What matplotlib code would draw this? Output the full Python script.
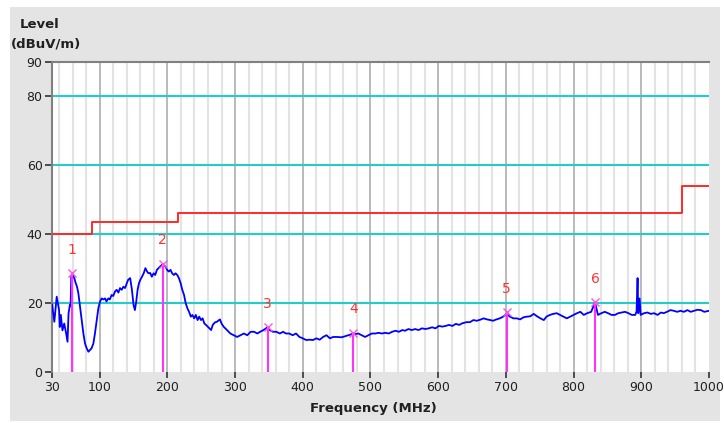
import matplotlib
matplotlib.use("Agg")
import matplotlib.pyplot as plt
from matplotlib.patches import Rectangle

# Start Data Section *********************************************
freq_mhz = [
    30, 31, 33, 36.5, 40, 41, 42.6, 45, 47.6, 50, 52.5, 54, 56, 57, 58, 59.5,
    62.5, 64.5, 66.5, 68.5, 71, 73.4, 75.9, 78.3, 80.8, 83.3, 85.7, 88, 90.7,
    93, 95.6, 98, 100.5, 103, 105.5, 108, 110, 112.7, 115, 117.6, 120, 122.6,
    125, 127.6, 130, 132.5, 135, 137.5, 140, 142, 145, 147.6, 150, 152, 154,
    156, 158, 160, 162.5, 165, 167.5, 170, 172, 174.6, 177, 179.6, 182, 184.5,
    187, 189.5, 192, 193, 194.6, 197, 199.6, 202, 204.6, 207, 209.6, 212,
    214.6, 217, 219.6, 222, 224.6, 227, 229.6, 232, 234.6, 237, 239.6, 242,
    244.6, 247, 249.6, 252, 254.6, 257, 259.6, 262, 264.6, 267, 270, 273,
    277.6, 280, 283, 288, 293, 298, 303, 308, 313, 318, 323, 328, 333, 337,
    342, 348, 351, 356, 361, 366, 371, 375, 380, 385, 390, 395, 400, 405, 410,
    415, 420, 425, 430, 435, 440, 445, 450, 457.5, 462.4, 467.3, 472.2, 474.7,
    477.2, 482, 487, 492, 497, 502, 507, 512, 517, 522, 527, 532, 537, 542,
    547, 551, 556, 561, 566, 571, 576, 581, 586, 591, 596, 601, 606, 611, 616,
    621, 626, 631, 636, 642, 647, 652, 657, 662, 667, 672, 677, 681, 686, 691,
    696, 701, 706, 711, 716, 721, 726, 731, 736, 741, 746, 751, 756, 760, 765,
    770, 775, 780, 785, 790, 795, 800, 805, 810, 815, 820, 826, 831.6, 836,
    841, 846, 851, 856, 861, 866, 871, 876, 881, 886, 891, 893, 894.5, 895.5,
    897.5, 899, 904, 909, 914, 919, 924, 929, 933, 938, 943, 948, 953, 958,
    963, 968, 973, 978, 983, 988, 993, 1000,
]
level_dbuv = [
    19.5, 17.5, 14.5, 21.8, 17.9, 13.0, 16.5, 12.0, 14.0, 11.6, 8.7, 17.0,
    19.4, 19.0, 27.6, 28.6, 27.2, 25.8, 24.7, 22.8, 18.9, 15.0, 11.1, 8.2,
    6.8, 5.8, 6.3, 6.8, 8.2, 11.1, 15.0, 18.4, 20.4, 21.3, 21.0, 21.3, 20.4,
    21.3, 21.0, 22.3, 22.0, 23.3, 23.8, 23.0, 24.3, 23.8, 24.7, 24.3, 25.7,
    26.7, 27.2, 23.8, 19.4, 17.9, 20.4, 23.8, 25.7, 26.7, 27.6, 28.6, 30.1,
    29.1, 28.6, 28.7, 27.6, 28.6, 28.1, 29.6, 30.1, 30.6, 31.0, 31.3, 31.0,
    30.6, 29.6, 29.1, 29.6, 28.6, 28.1, 28.6, 28.1, 27.2, 25.7, 23.8, 22.3,
    19.9, 18.4, 17.4, 16.0, 16.5, 15.5, 16.5, 15.0, 16.0, 15.0, 15.5, 14.0,
    13.6, 13.1, 12.6, 12.1, 13.6, 14.3, 14.5, 15.2, 14.0, 13.1, 12.1, 11.1,
    10.6, 10.1, 10.6, 11.1, 10.6, 11.6, 11.6, 11.1, 11.6, 12.1, 12.9, 12.1,
    11.6, 11.6, 11.1, 11.6, 11.1, 11.1, 10.6, 11.1, 10.1, 9.7, 9.2, 9.3, 9.2,
    9.7, 9.3, 10.1, 10.6, 9.7, 10.1, 10.1, 10.0, 10.3, 10.6, 10.9, 11.3,
    10.9, 11.1, 10.6, 10.1, 10.6, 11.1, 11.1, 11.3, 11.1, 11.3, 11.1, 11.6,
    11.9, 11.6, 12.1, 11.9, 12.4, 12.1, 12.4, 12.1, 12.6, 12.4, 12.6, 12.9,
    12.6, 13.3, 13.1, 13.3, 13.6, 13.3, 13.9, 13.6, 14.1, 14.4, 14.4, 15.0,
    14.8, 15.1, 15.5, 15.2, 15.0, 14.8, 15.2, 15.5, 16.0, 16.8, 16.0, 15.5,
    15.5, 15.2, 15.8, 16.0, 16.1, 16.8, 16.1, 15.5, 15.0, 16.0, 16.5, 16.8,
    17.0, 16.5, 16.0, 15.5, 16.0, 16.5, 17.0, 17.4, 16.5, 17.0, 17.4, 20.2,
    16.5, 17.0, 17.4, 17.0, 16.5, 16.5, 17.0, 17.2, 17.4, 17.0, 16.5, 16.5,
    17.5, 27.2, 17.0, 21.3, 16.5, 17.0, 17.2, 16.8, 17.0, 16.5, 17.2, 17.0,
    17.4, 17.9, 17.7, 17.4, 17.7, 17.4, 17.9, 17.4, 17.7, 18.0, 17.9, 17.4,
    17.7,
]

# limit line (step edges and levels)
limit_freq = [30, 88, 216, 960, 1000]
limit_level = [40, 43.5, 46, 54, 54]

# peak markers
marker_ids = ["1", "2", "3", "4", "5", "6"]
marker_freq = [59.5, 193, 348, 474.7, 701, 831.6]
marker_level = [28.6, 31.3, 12.9, 11.3, 17.3, 20.2]

x_ticks = [30, 100, 200, 300, 400, 500, 600, 700, 800, 900, 1000]
x_minor = [f for f in range(40, 1000, 20) if f % 100 != 0]
y_ticks = [0, 20, 40, 60, 80, 90]
# End Data Section ***********************************************


def draw_chart():
    fig = plt.figure(figsize=(7.24, 4.23), dpi=100)
    fig.patch.set_facecolor("white")
    fig.add_artist(Rectangle((10 / 724, 1 - 421 / 423), 710 / 724, 414 / 423,
                             transform=fig.transFigure, facecolor="#e4e4e4",
                             edgecolor="none", zorder=-10))

    ax = fig.add_axes([52.3 / 724, 1 - 371.7 / 423, 656.7 / 724, 309.7 / 423])
    ax.set_facecolor("white")
    ax.set_xlim(30, 1000)
    ax.set_ylim(0, 90)

    # grid
    ax.set_axisbelow(True)
    ax.set_xticks(x_ticks)
    ax.set_xticks(x_minor, minor=True)
    ax.set_yticks(y_ticks)
    ax.xaxis.grid(True, which="major", color="#b4b4b4", lw=1.3)
    ax.xaxis.grid(True, which="minor", color="#e3e3e3", lw=1.5)
    ax.yaxis.grid(True, color="#22cccc", lw=1.5)
    for gl in (ax.get_ygridlines()[0], ax.get_ygridlines()[-1],
               ax.get_xgridlines()[0], ax.get_xgridlines()[-1]):
        gl.set_visible(False)

    # limit line
    ax.step(limit_freq, limit_level, where="post", color="#ff2a2a", lw=1.4, zorder=3)

    # measured trace
    ax.plot(freq_mhz, level_dbuv, color="#0000ff", lw=1.3, zorder=4)

    # markers
    ax.vlines(marker_freq, 0, marker_level, color="#ff33ff", lw=1.5, zorder=5)
    ax.plot(marker_freq, marker_level, "x", color="#ff55dd", ms=5.5, mew=1.0, zorder=6)
    for mid, f, lv in zip(marker_ids, marker_freq, marker_level):
        ax.annotate(mid, (f, lv), xytext=(0, 12), textcoords="offset points",
                    ha="center", va="bottom", color="#ff3333", fontsize=10)

    # axes styling
    for side in ("right", "bottom"):
        ax.spines[side].set_visible(False)
    for side in ("left", "top"):
        ax.spines[side].set_color("#808080")
        ax.spines[side].set_linewidth(1.5)
    ax.tick_params(axis="y", length=5, width=1.2, color="#333333",
                   labelsize=9, labelcolor="#202020", pad=2)
    ax.tick_params(axis="x", which="major", length=4, width=1.2, color="#333333",
                   labelsize=9, labelcolor="#202020", pad=3)
    ax.tick_params(axis="x", which="minor", length=0)

    fig.text(40 / 724, 1 - 24 / 423, "Level", ha="center", va="center",
             fontsize=9.5, fontweight="bold", color="#202020")
    fig.text(46 / 724, 1 - 44 / 423, "(dBuV/m)", ha="center", va="center",
             fontsize=9.5, fontweight="bold", color="#202020")
    fig.text(373 / 724, 1 - 408 / 423, "Frequency (MHz)", ha="center", va="center",
             fontsize=9.5, fontweight="bold", color="#202020")

    fig.savefig("out.png", dpi=100)


if __name__ == "__main__":
    draw_chart()
